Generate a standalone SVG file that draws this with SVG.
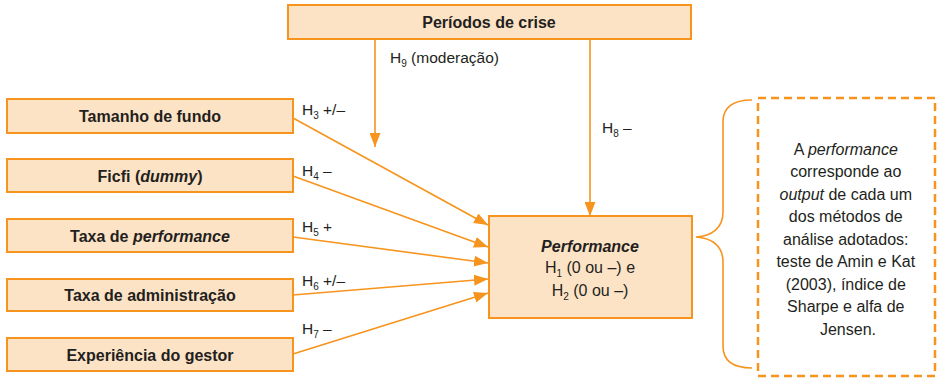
<svg xmlns="http://www.w3.org/2000/svg" width="937" height="379" viewBox="0 0 937 379">
<style>
.box{fill:#FDE3C6;stroke:#F7941D;stroke-width:2}
.ln{fill:none;stroke:#F7941D;stroke-width:1.6}
.t{font-family:"Liberation Sans",Arial,sans-serif;fill:#231F20}
.b{font-weight:bold;font-size:16px}
.r{font-size:15.5px}
.m{font-size:16px}
.s{font-size:10px}
</style>
<defs>
<marker id="ah" viewBox="0 0 14 11" refX="14" refY="5.5" markerWidth="14" markerHeight="11" markerUnits="userSpaceOnUse" orient="auto">
<path d="M0,0 L14,5.5 L0,11 z" fill="#F7941D"/>
</marker>
</defs>
<rect width="937" height="379" fill="#fff"/>
<g id="connectors">
<path class="ln" d="M375,39 L375,147" marker-end="url(#ah)"/>
<path class="ln" d="M590,39 L590,216" marker-end="url(#ah)"/>
<path class="ln" d="M293,118 L488,225" marker-end="url(#ah)"/>
<path class="ln" d="M293,176 L488,247" marker-end="url(#ah)"/>
<path class="ln" d="M293,237 L488,263" marker-end="url(#ah)"/>
<path class="ln" d="M293,295 L488,279" marker-end="url(#ah)"/>
<path class="ln" d="M293,354 L488,293" marker-end="url(#ah)"/>
<path class="ln" d="M752,100 C735,100 723,106 723,122 L723,212 C723,228 712,236 696,237 C712,238 723,246 723,262 L723,346 C723,362 735,368 752,368"/>
<text class="t r" x="390" y="63">H<tspan class="s" dy="4">9</tspan><tspan dy="-4"> (moderação)</tspan></text>
<text class="t r" x="602" y="133">H<tspan class="s" dy="4">8</tspan><tspan dy="-4"> –</tspan></text>
<text class="t r" x="302" y="115">H<tspan class="s" dy="4">3</tspan><tspan dy="-4"> +/–</tspan></text>
<text class="t r" x="302" y="176">H<tspan class="s" dy="4">4</tspan><tspan dy="-4"> –</tspan></text>
<text class="t r" x="302" y="232">H<tspan class="s" dy="4">5</tspan><tspan dy="-4"> +</tspan></text>
<text class="t r" x="302" y="286">H<tspan class="s" dy="4">6</tspan><tspan dy="-4"> +/–</tspan></text>
<text class="t r" x="302" y="334">H<tspan class="s" dy="4">7</tspan><tspan dy="-4"> –</tspan></text>
</g>
<g id="crise">
<rect class="box" x="288" y="5" width="403" height="34"/>
<text class="t b" x="489" y="28" text-anchor="middle">Períodos de crise</text>
</g>
<g id="tamanho">
<rect class="box" x="7" y="99" width="286" height="34"/>
<text class="t b" x="150" y="122" text-anchor="middle">Tamanho de fundo</text>
</g>
<g id="ficfi">
<rect class="box" x="7" y="159" width="286" height="33"/>
<text class="t b" x="150" y="182" text-anchor="middle">Ficfi (<tspan font-style="italic">dummy</tspan>)</text>
</g>
<g id="taxaperf">
<rect class="box" x="7" y="219" width="286" height="33"/>
<text class="t b" x="150" y="242" text-anchor="middle">Taxa de <tspan font-style="italic">performance</tspan></text>
</g>
<g id="taxaadm">
<rect class="box" x="7" y="279" width="286" height="32"/>
<text class="t b" x="150" y="301" text-anchor="middle">Taxa de administração</text>
</g>
<g id="experiencia">
<rect class="box" x="7" y="338" width="286" height="33"/>
<text class="t b" x="150" y="361" text-anchor="middle">Experiência do gestor</text>
</g>
<g id="performance">
<rect class="box" x="489" y="216" width="203" height="102"/>
<text class="t b" x="590" y="252" text-anchor="middle" font-style="italic">Performance</text>
<text class="t m" x="590" y="273" text-anchor="middle">H<tspan class="s" dy="4">1</tspan><tspan dy="-4"> (0 ou –) e</tspan></text>
<text class="t m" x="590" y="296" text-anchor="middle">H<tspan class="s" dy="4">2</tspan><tspan dy="-4"> (0 ou –)</tspan></text>
</g>
<g id="nota">
<rect x="758" y="98" width="177" height="278" fill="none" stroke="#F7941D" stroke-width="2.5" stroke-dasharray="8 5"/>
<text class="t m" text-anchor="middle">
<tspan x="848" y="155">A <tspan font-style="italic">performance</tspan></tspan>
<tspan x="848" y="177">corresponde ao</tspan>
<tspan x="848" y="200"><tspan font-style="italic">output</tspan> de cada um</tspan>
<tspan x="848" y="222">dos métodos de</tspan>
<tspan x="848" y="245">análise adotados:</tspan>
<tspan x="848" y="267">teste de Amin e Kat</tspan>
<tspan x="848" y="290">(2003), índice de</tspan>
<tspan x="848" y="312">Sharpe e alfa de</tspan>
<tspan x="848" y="335">Jensen.</tspan>
</text>
</g>
</svg>
